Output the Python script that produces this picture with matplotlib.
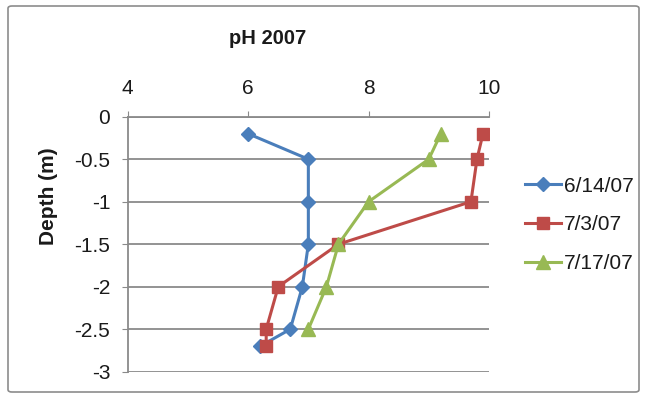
import matplotlib
matplotlib.use("Agg")
import matplotlib.pyplot as plt
from matplotlib.patches import FancyBboxPatch

plt.rcParams['font.family'] = ['Liberation Sans', 'DejaVu Sans']

# pH profiles by sampling date
depth_0614 = [-0.2, -0.5, -1.0, -1.5, -2.0, -2.5, -2.7]
ph_0614 = [6.0, 7.0, 7.0, 7.0, 6.9, 6.7, 6.2]

depth_0703 = [-0.2, -0.5, -1.0, -1.5, -2.0, -2.5, -2.7]
ph_0703 = [9.9, 9.8, 9.7, 7.5, 6.5, 6.3, 6.3]

depth_0717 = [-0.2, -0.5, -1.0, -1.5, -2.0, -2.5]
ph_0717 = [9.2, 9.0, 8.0, 7.5, 7.3, 7.0]

series_labels = ["6/14/07", "7/3/07", "7/17/07"]
x_ticks = [4, 6, 8, 10]
y_ticks = [0, -0.5, -1, -1.5, -2, -2.5, -3]
y_ticklabels = ["0", "-0.5", "-1", "-1.5", "-2", "-2.5", "-3"]

fig = plt.figure(figsize=(6.46, 3.97), dpi=100)
frame = FancyBboxPatch((8 / 646, 5 / 397), 631 / 646, 386 / 397,
                       boxstyle="round,pad=0,rounding_size=0.006",
                       transform=fig.transFigure, facecolor="none",
                       edgecolor="#8c8c8c", linewidth=1.2, zorder=5)
fig.patches.append(frame)

ax = fig.add_axes([127.7 / 646, 1 - 371.7 / 397, (489 - 127.7) / 646, (371.7 - 116.7) / 397])
ax.patch.set_alpha(0)

ax.plot(ph_0614, depth_0614, color="#4A7EBB", marker="D", markersize=7.5,
        linewidth=2.2, label=series_labels[0])
ax.plot(ph_0703, depth_0703, color="#BE4B48", marker="s", markersize=9,
        linewidth=2.2, label=series_labels[1])
ax.plot(ph_0717, depth_0717, color="#98B954", marker="^", markersize=10,
        linewidth=2.2, label=series_labels[2])

ax.set_xlim(4, 10)
ax.set_ylim(-3, 0)
ax.set_xticks(x_ticks)
ax.set_yticks(y_ticks)
ax.set_yticklabels(y_ticklabels)
ax.xaxis.tick_top()
ax.tick_params(axis="x", direction="out", length=4.5, color="#8a8a8a",
               labelsize=15, pad=9, labelcolor="#1a1a1a")
ax.tick_params(axis="y", direction="out", length=4.5, color="#8a8a8a",
               labelsize=15, pad=8, labelcolor="#1a1a1a")
for s in ["right", "bottom"]:
    ax.spines[s].set_visible(False)
for s in ["top", "left"]:
    ax.spines[s].set_color("#8a8a8a")
    ax.spines[s].set_linewidth(1.3)
ax.yaxis.grid(True, color="#8a8a8a", linewidth=1.3)
ax.set_axisbelow(True)

fig.text(268 / 646, 1 - 39 / 397, "pH 2007", ha="center", va="center",
         fontsize=14.5, fontweight="bold", color="#1a1a1a")
fig.text(48 / 646, 1 - 196 / 397, "Depth (m)", ha="center", va="center",
         rotation=90, fontsize=15, fontweight="bold", color="#1a1a1a")

leg = ax.legend(loc="center left", bbox_to_anchor=(525 / 646, 1 - 225 / 397),
                bbox_transform=fig.transFigure, frameon=False, fontsize=15,
                handlelength=1.75, handletextpad=0.1, labelspacing=0.95,
                borderpad=0, borderaxespad=0)
for t in leg.get_texts():
    t.set_color("#1a1a1a")

fig.savefig("out.png", dpi=100)
